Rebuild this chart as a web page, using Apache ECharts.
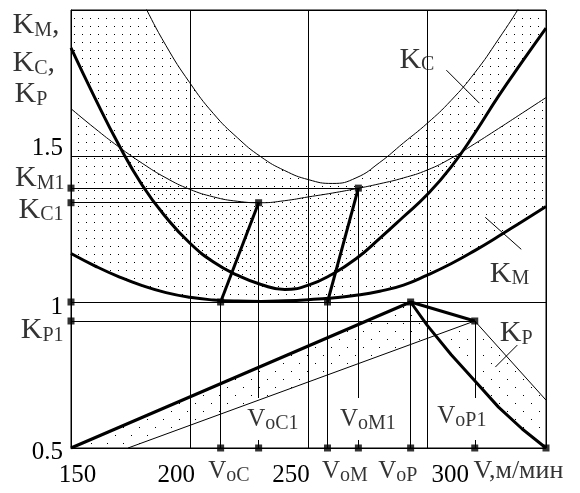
<!DOCTYPE html>
<html>
<head>
<meta charset="utf-8">
<title>K(V)</title>
<script src="https://cdn.jsdelivr.net/npm/echarts@6/dist/echarts.min.js"></script>
</head>
<body style="margin:0;background:#fff">
<div id="main" style="width:580px;height:493px;"></div>
<script>
// скорость V, м/мин - общая сетка для кривых K_C и K_M
var speeds = [150, 160, 170, 180, 190, 200, 210, 220, 230, 240, 250, 260, 270, 280, 290, 300, 310, 320, 330, 340, 350];
// K_C: жирная кривая и тонкая граница полосы
var kcMain  = [1.870, 1.700, 1.540, 1.400, 1.290, 1.202, 1.137, 1.092, 1.060, 1.043, 1.058, 1.095, 1.148, 1.218, 1.292, 1.368, 1.462, 1.578, 1.705, 1.823, 1.938];
var kcShift = [2.54, 2.36, 2.19, 2.03, 1.878, 1.751, 1.645, 1.563, 1.497, 1.450, 1.419, 1.406, 1.425, 1.478, 1.545, 1.612, 1.690, 1.785, 1.900, 2.025, 2.16];
// K_M
var kmMain  = [1.166, 1.124, 1.087, 1.056, 1.032, 1.016, 1.007, 1.003, 1.002, 1.004, 1.008, 1.014, 1.023, 1.037, 1.058, 1.092, 1.131, 1.176, 1.225, 1.276, 1.327];
var kmShift = [1.662, 1.595, 1.532, 1.475, 1.425, 1.386, 1.360, 1.345, 1.340, 1.347, 1.360, 1.373, 1.388, 1.405, 1.425, 1.452, 1.492, 1.542, 1.594, 1.647, 1.700];
// K_P (ломаные)
var kpMainV  = [150, 293, 300, 310, 320, 330, 340, 350];
var kpMain   = [0.5, 1.0, 0.92, 0.82, 0.73, 0.64, 0.565, 0.5];
var kpShiftV = [174, 320, 350];
var kpShift  = [0.5, 0.935, 0.664];
// оптимумы: C, M, P
var optNames = ['C', 'M', 'P'];
var vOpt  = [213, 258, 293];
var vOpt1 = [229, 271, 320];
var kOpt1 = [1.34, 1.39, 0.935];
// подписи осей
var xTicks = [150, 200, 250, 300];
var yTicks = [0.5, 1, 1.5];
var xUnit = 'V,м/мин';

var X0 = 150, X1 = 350, Y0 = 0.5, Y1 = 2.0;
var GL = 71, GT = 10, GW = 475, GH = 438;
var pxY = (Y1 - Y0) / GH;
var F = '"Liberation Serif", serif';

function pairs(xs, ys) { return xs.map(function (x, i) { return [x, ys[i]]; }); }
function at(xs, ys, x) {
    for (var i = 1; i < xs.length; i++) {
        if (x <= xs[i]) {
            var t = (x - xs[i - 1]) / (xs[i] - xs[i - 1]);
            return ys[i - 1] + t * (ys[i] - ys[i - 1]);
        }
    }
    return ys[ys.length - 1];
}
function dots(w, h, pts) {
    var c = document.createElement('canvas');
    c.width = w; c.height = h;
    var g = c.getContext('2d');
    g.fillStyle = '#000';
    pts.forEach(function (p) { g.fillRect(p[0], p[1], 1, 1); });
    return { image: c, repeat: 'repeat' };
}

var rich = {
    k:  { fontFamily: F, fontSize: 30, lineHeight: 30, color: '#000' },
    ks: { fontFamily: F, fontSize: 20, lineHeight: 8, verticalAlign: 'bottom', color: '#000' },
    v:  { fontFamily: F, fontSize: 25, lineHeight: 28, color: '#000' },
    vs: { fontFamily: F, fontSize: 20, lineHeight: 6, verticalAlign: 'bottom', color: '#000' },
    u:  { fontFamily: F, fontSize: 26, lineHeight: 28, color: '#000' }
};
function K(sub, tail) { return '{k|K}{ks|' + sub + '}' + (tail ? '{k|' + tail + '}' : ''); }
function V(sub) { return '{v|V}{vs|' + sub + '}'; }

// полосы
function band(upper, lower, fill) {
    var pts = upper.concat(lower.slice().reverse());
    return {
        type: 'custom', coordinateSystem: 'cartesian2d', clip: true, silent: true, z: 1,
        data: [[X0, Y0]],
        renderItem: function (params, api) {
            return {
                type: 'polygon',
                shape: { points: pts.map(function (p) { return api.coord(p); }) },
                style: { fill: fill, stroke: null }
            };
        }
    };
}
function curve(data, width, smooth) {
    return {
        type: 'line', data: data, symbol: 'none', smooth: smooth,
        silent: true, z: 3, lineStyle: { color: '#000', width: width }
    };
}

// тонкие и жирные отрезки построения
var thin = [], thick = [], marks = [];
optNames.forEach(function (n, i) {
    thin.push([[X0, kOpt1[i]], [vOpt1[i], kOpt1[i]]]);
    thin.push([[vOpt[i], Y0], [vOpt[i], 1]]);
    thin.push([[vOpt1[i], kOpt1[i]], [vOpt1[i], Y0 + 50 * pxY]]);
    thin.push([[vOpt1[i], Y0], [vOpt1[i], Y0 + 8 * pxY]]);
    thick.push([[vOpt[i], 1], [vOpt1[i], kOpt1[i]]]);
    marks.push([vOpt[i], Y0], [vOpt1[i], Y0], [X0, kOpt1[i]], [vOpt[i], 1], [vOpt1[i], kOpt1[i]]);
});
marks.push([X0, 1], [kpMainV[kpMainV.length - 1], kpMain[kpMain.length - 1]]);

// метки кривых
var kcAt = 315, kmAt = 332, kpAt = 333.3;
var callouts = [
    [kcAt, at(speeds, kcShift, kcAt), 16.5, 16.5],
    [kmAt, at(speeds, kmMain, kmAt), 18, 16],
    [kpAt, at(kpShiftV, kpShift, kpAt), 11, -11]
];

// подписи
var notes = [
    { at: [X0, Y1], text: K('M', ','), pos: [-58, 1] },
    { at: [X0, Y1], text: K('C', ','), pos: [-58, 39] },
    { at: [X0, Y1], text: K('P'), pos: [-56, 70] },
    { at: [X0, kOpt1[1]], text: K('M1'), pos: [-6, -24], align: 'right' },
    { at: [X0, kOpt1[0]], text: K('C1'), pos: [-7, -7], align: 'right' },
    { at: [X0, kOpt1[2]], text: K('P1'), pos: [-7, -5], align: 'right' },
    { at: callouts[0].slice(0, 2), text: K('C'), pos: [-63, -41] },
    { at: callouts[1].slice(0, 2), text: K('M'), pos: [-13, 26] },
    { at: callouts[2].slice(0, 2), text: K('P'), pos: [-6, -37] },
    { at: [vOpt[0], Y0], text: V('oC'), pos: [-12, 10] },
    { at: [vOpt[1], Y0], text: V('oM'), pos: [-5, 10] },
    { at: [vOpt[2], Y0], text: V('oP'), pos: [-32, 10] },
    { at: [X1, Y0], text: '{u|' + xUnit + '}', pos: [-72, 10] },
    { at: [vOpt1[0], Y0], text: V('oC1'), pos: [-11, -42] },
    { at: [vOpt1[1], Y0], text: V('oM1'), pos: [-18, -42] },
    { at: [vOpt1[2], Y0], text: V('oP1'), pos: [-37, -45] }
];

// сдвиги подписей делений
var xPad = { 150: [0, 0, 0, 13], 200: [0, 27, 0, 0], 250: [0, 35, 0, 0], 300: [0, 0, 0, 46] };
var yPad = { 0.5: [8, 0, 0, 0], 1: [10, 0, 0, 0], 1.5: [0, 0, 16, 0] };
var xRich = {}, yRich = {};
xTicks.forEach(function (t, i) { xRich['x' + i] = { fontFamily: F, fontSize: 25, color: '#000', padding: xPad[t] }; });
yTicks.forEach(function (t, i) { yRich['y' + i] = { fontFamily: F, fontSize: 25, color: '#000', padding: yPad[t] }; });

var option = {
    animation: false,
    backgroundColor: '#fff',
    grid: { left: GL, top: GT, width: GW, height: GH, show: true, borderColor: '#000', borderWidth: 1 },
    xAxis: {
        type: 'value', min: X0, max: X1, interval: 50,
        axisLine: { lineStyle: { color: '#000', width: 1 } },
        axisTick: { show: false },
        splitLine: { lineStyle: { color: '#000', width: 1 } },
        axisLabel: {
            margin: 15, showMinLabel: true, showMaxLabel: true, rich: xRich,
            formatter: function (v) { var i = xTicks.indexOf(v); return i < 0 ? '' : '{x' + i + '|' + v + '}'; }
        }
    },
    yAxis: {
        type: 'value', min: Y0, max: Y1, interval: 0.5,
        axisLine: { lineStyle: { color: '#000', width: 1 } },
        axisTick: { show: false },
        splitLine: { lineStyle: { color: '#000', width: 1 } },
        axisLabel: {
            margin: 8, showMinLabel: true, showMaxLabel: true, rich: yRich,
            formatter: function (v) { var i = yTicks.indexOf(v); return i < 0 ? '' : '{y' + i + '|' + v + '}'; }
        }
    },
    series: [
        band(pairs(speeds, kcShift), pairs(speeds, kcMain), dots(8, 8, [[2, 2]])),
        band(pairs(speeds, kmShift), pairs(speeds, kmMain), dots(8, 8, [[6, 6]])),
        band(pairs(kpMainV, kpMain), pairs(kpShiftV, kpShift), dots(16, 16, [[3, 3], [11, 11]])),
        curve(pairs(speeds, kcMain), 3, 0.5),
        curve(pairs(speeds, kcShift), 1, 0.5),
        curve(pairs(speeds, kmMain), 3, 0.5),
        curve(pairs(speeds, kmShift), 1, 0.5),
        curve(pairs(kpMainV, kpMain), 3, false),
        curve(pairs(kpShiftV, kpShift), 1, false),
        {
            type: 'lines', coordinateSystem: 'cartesian2d', silent: true, z: 3,
            data: thin.map(function (s) { return { coords: s }; }),
            lineStyle: { color: '#000', width: 1, opacity: 1 }
        },
        {
            type: 'lines', coordinateSystem: 'cartesian2d', silent: true, z: 3,
            data: thick.map(function (s) { return { coords: s }; }),
            lineStyle: { color: '#000', width: 3, opacity: 1 }
        },
        {
            type: 'custom', coordinateSystem: 'cartesian2d', silent: true, z: 4,
            data: callouts,
            renderItem: function (params, api) {
                var p = api.coord([api.value(0), api.value(1)]);
                var dx = api.value(2), dy = api.value(3);
                return { type: 'line', shape: { x1: p[0] - dx, y1: p[1] - dy, x2: p[0] + dx, y2: p[1] + dy },
                         style: { stroke: '#000', lineWidth: 1 } };
            }
        },
        {
            type: 'scatter', silent: true, z: 5, symbol: 'rect', symbolSize: 7,
            itemStyle: { color: '#000' }, data: marks
        },
        {
            type: 'scatter', silent: true, z: 6, symbolSize: 1,
            itemStyle: { color: 'rgba(0,0,0,0)' },
            data: notes.map(function (n) {
                return {
                    value: n.at,
                    label: { show: true, position: n.pos, align: n.align || 'left', verticalAlign: 'top',
                             formatter: n.text, rich: rich }
                };
            })
        }
    ]
};
var chart = echarts.init(document.getElementById('main'));
chart.setOption(option);
</script>
</body>
</html>
